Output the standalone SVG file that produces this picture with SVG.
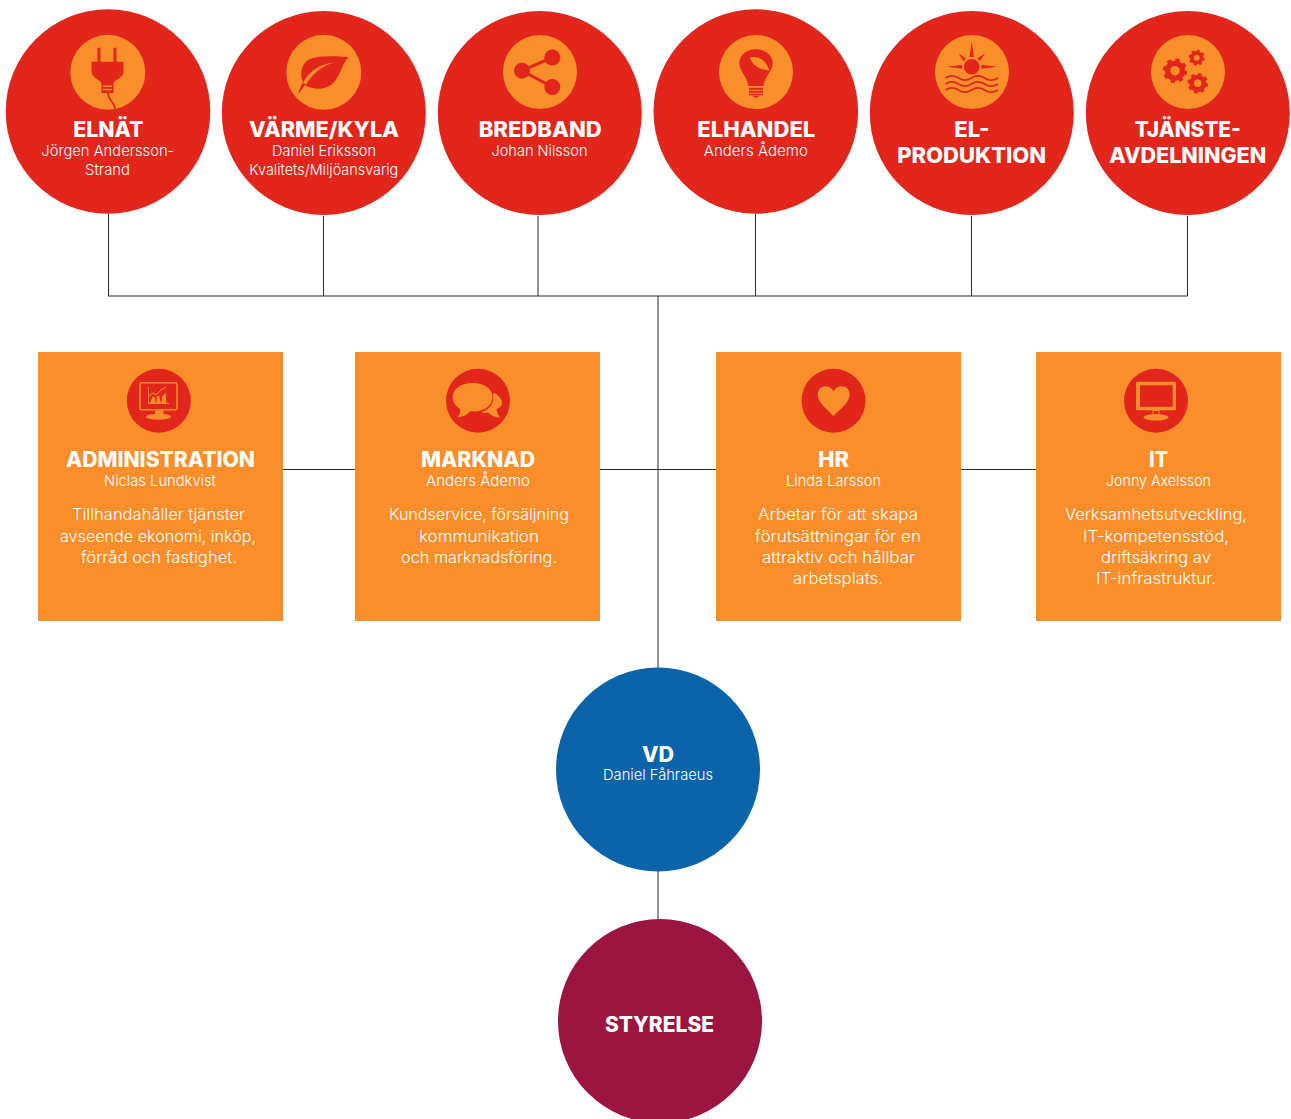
<svg xmlns="http://www.w3.org/2000/svg" width="1291" height="1119" viewBox="0 0 1291 1119">
<style>
text{font-family:Inter,"Liberation Sans",sans-serif;fill:#fff;text-anchor:middle}
.t{font-size:21px;font-weight:800}
.n{font-size:15px;font-weight:300}
.b{font-size:16.5px;font-weight:300}
.red{fill:#e2261b}.or{fill:#f98e2b}
.box{fill:#f98e2b}
.c{fill:none;stroke:#2a2a2a;stroke-width:1}
.rs{fill:none;stroke:#e2261b}.os{fill:none;stroke:#f98e2b}
</style>
<rect width="1291" height="1119" fill="#fff"/>
<g id="connectors" class="c">
<path d="M108.500 214V296M323.500 216V296M538 216V296M755.500 214V296M971.500 216V296M1187.500 216V296M108 296H1187.500"/>
<path d="M658 296V668M283 469.500H355M600 469.500H716M961 469.500H1036M658 871V920"/>
</g>
<g id="elnat">
<circle class="red" cx="108" cy="111.500" r="102.300"/>
<circle class="or" cx="107.800" cy="72.300" r="37.500"/>
<path class="red" d="M97.500 47.700h3v14h-3zM113.500 47.700h3v14h-3zM91.500 61.700H123.500V71C123.500 79 114 79 113.500 84V93H101.500V84C101 79 91.500 79 91.500 71Z"/>
<path class="or" d="M103 85.500h9v1.500h-9zM103 88.800h9v1.500h-9z"/>
<path class="rs" stroke-width="1.800" d="M108 93C108 100 113 100 115.500 109"/>
<text class="t" x="108.300" y="136.500" textLength="70" lengthAdjust="spacingAndGlyphs">ELNÄT</text>
<text class="n" x="107.800" y="156" textLength="133" lengthAdjust="spacingAndGlyphs">Jörgen Andersson-</text>
<text class="n" x="107.500" y="175" textLength="45" lengthAdjust="spacingAndGlyphs">Strand</text>
</g>
<g id="varme-kyla">
<circle class="red" cx="323.800" cy="113" r="102"/>
<circle class="or" cx="323.800" cy="72.300" r="37.500"/>
<path class="red" d="M349 57.300C343 61 342 72 335 81C328 90 314 91 305 85L301 90.500L299 93.500L298.500 92C300 88 301.500 85 303 82C299 74 302 62 310 59C320 55 337 56 349 57.300Z"/>
<path class="or" d="M303 83C309 71 320 64 334 62.500C322 66 313 73 306 84.500Z"/>
<text class="t" x="324" y="136.500" textLength="150" lengthAdjust="spacingAndGlyphs">VÄRME/KYLA</text>
<text class="n" x="324" y="156" textLength="104" lengthAdjust="spacingAndGlyphs">Daniel Eriksson</text>
<text class="n" x="323.800" y="175" textLength="149" lengthAdjust="spacingAndGlyphs">Kvalitets/Miljöansvarig</text>
</g>
<g id="bredband">
<circle class="red" cx="539.800" cy="113" r="102"/>
<circle class="or" cx="540" cy="72" r="37"/>
<g class="red"><circle cx="522" cy="70.700" r="8"/><circle cx="552.300" cy="57.500" r="8"/><circle cx="552.300" cy="87" r="8"/></g>
<path class="rs" stroke-width="3" d="M552.300 57.500L522 70.700L552.300 87"/>
<text class="t" x="540.200" y="136.500" textLength="123" lengthAdjust="spacingAndGlyphs">BREDBAND</text>
<text class="n" x="539.500" y="156" textLength="96" lengthAdjust="spacingAndGlyphs">Johan Nilsson</text>
</g>
<g id="elhandel">
<circle class="red" cx="755.800" cy="111.500" r="102.300"/>
<circle class="or" cx="756" cy="72" r="37"/>
<path class="red" d="M756 49.300C765.500 49.300 772.700 55.500 772.700 63C772.700 71 765 76 763.300 86H748.300C747 76 739.300 71 739.300 63C739.300 55.500 746.500 49.300 756 49.300Z"/>
<path class="or" d="M750 57.500C757 55.500 766 58.500 769.500 71C763 69.500 753 68 750 57.500Z"/>
<path class="red" d="M749 87.800h14v2h-14zM749 90.800h14v2h-14zM749 93.800h14v1.500h-14zM752 95.800h8l-4 2.200z"/>
<text class="t" x="756.300" y="136.500" textLength="118" lengthAdjust="spacingAndGlyphs">ELHANDEL</text>
<text class="n" x="755.800" y="156" textLength="104" lengthAdjust="spacingAndGlyphs">Anders Ådemo</text>
</g>
<g id="el-produktion">
<circle class="red" cx="971.800" cy="113" r="102"/>
<circle class="or" cx="972" cy="72" r="37"/>
<circle class="red" cx="971.700" cy="66.700" r="7.800"/>
<path class="red" d="M971.700 41.700L974 57H969.400ZM947.300 66.700L962 64.700V68.700ZM996.700 66.700L981.500 64.700V68.700ZM958.300 53.300L966 58.500L963.500 61ZM985.200 53.300L977.500 58.500L980 61Z"/>
<path class="rs" stroke-width="1.700" d="M945.500 78C950 75 954 75 958.500 78S967 81 971.500 78S980 75 984.500 78S993.500 81 998 78M945.500 84C950 81 954 81 958.500 84S967 87 971.500 84S980 81 984.500 84S993.500 87 998 84M945.500 90C950 87 954 87 958.500 90S967 93 971.500 90S980 87 984.500 90S993.500 93 998 90"/>
<text class="t" x="971.800" y="136.500" textLength="35" lengthAdjust="spacingAndGlyphs">EL-</text>
<text class="t" x="971.700" y="162.500" textLength="149" lengthAdjust="spacingAndGlyphs">PRODUKTION</text>
</g>
<g id="tjansteavdelningen">
<circle class="red" cx="1187.800" cy="113" r="102"/>
<circle class="or" cx="1188" cy="72" r="37"/>
<g class="rs">
<circle cx="1175" cy="70.700" r="7.500" stroke-width="5.500"/>
<circle cx="1175" cy="70.700" r="10.500" stroke-width="3.500" stroke-dasharray="4.200 4.050"/>
<circle cx="1197.700" cy="83.300" r="6.200" stroke-width="4.800"/>
<circle cx="1197.700" cy="83.300" r="8.800" stroke-width="3" stroke-dasharray="3.500 3.410"/>
<circle cx="1196.700" cy="57.700" r="4.800" stroke-width="3.800"/>
<circle cx="1196.700" cy="57.700" r="6.800" stroke-width="2.500" stroke-dasharray="2.700 2.640"/>
</g>
<text class="t" x="1187.700" y="136.500" textLength="106" lengthAdjust="spacingAndGlyphs">TJÄNSTE-</text>
<text class="t" x="1187.700" y="162.500" textLength="157" lengthAdjust="spacingAndGlyphs">AVDELNINGEN</text>
</g>
<g id="administration">
<rect class="box" x="38" y="352" width="245" height="269"/>
<circle class="red" cx="158.800" cy="400.700" r="32"/>
<rect class="os" x="140" y="382.700" width="37" height="27" rx="1.500" stroke-width="1.500"/>
<path class="or" d="M155 410.400h8.500v6h-8.500z"/>
<ellipse class="or" cx="158.500" cy="416.700" rx="12.500" ry="3"/>
<path class="os" stroke-width="1" d="M148 403.500H169M148.500 404V387"/>
<path class="or" d="M150 403L153 396L155 398L155.500 403ZM156.500 403V396.500L159 395.500L161 403ZM161.500 403L162 397L165.500 392.500L166.500 403Z"/>
<path class="os" stroke-width="1" d="M149 396L153 393L156 395L161 390L166 387"/>
<text class="t" x="160.500" y="467" textLength="189" lengthAdjust="spacingAndGlyphs">ADMINISTRATION</text>
<text class="n" x="160" y="486" textLength="112" lengthAdjust="spacingAndGlyphs">Niclas Lundkvist</text>
<text class="b" x="158.500" y="520" textLength="173" lengthAdjust="spacingAndGlyphs">Tillhandahåller tjänster</text>
<text class="b" x="158" y="542" textLength="196" lengthAdjust="spacingAndGlyphs">avseende ekonomi, inköp,</text>
<text class="b" x="159" y="563" textLength="156" lengthAdjust="spacingAndGlyphs">förråd och fastighet.</text>
</g>
<g id="marknad">
<rect class="box" x="355" y="352" width="245" height="269"/>
<circle class="red" cx="478" cy="400.700" r="32"/>
<path class="or" d="M493 394.500C494 392 496 393.500 498.500 396C504 401 503 407 496.500 409C497 412 498 415 500 417.500C496 417.500 491 415.500 488 412.500C485 413.500 483 413 482 412C490 409.500 495 402 493 394.500Z"/>
<path class="or" d="M472.700 383C461 383 452.700 389 452.700 397C452.700 402.500 456 406.500 460 409C461 412 459.500 415 457 417.300C462.500 417.300 467 415 470.500 411.300C484 412.500 492.500 405.500 492.500 397C492.500 389 484 383 472.700 383Z"/>
<text class="t" x="478" y="467" textLength="114" lengthAdjust="spacingAndGlyphs">MARKNAD</text>
<text class="n" x="478" y="486" textLength="104" lengthAdjust="spacingAndGlyphs">Anders Ådemo</text>
<text class="b" x="479" y="520" textLength="180" lengthAdjust="spacingAndGlyphs">Kundservice, försäljning</text>
<text class="b" x="479" y="542" textLength="120" lengthAdjust="spacingAndGlyphs">kommunikation</text>
<text class="b" x="479" y="563" textLength="156" lengthAdjust="spacingAndGlyphs">och marknadsföring.</text>
</g>
<g id="hr">
<rect class="box" x="716" y="352" width="245" height="269"/>
<circle class="red" cx="833.500" cy="400.700" r="32"/>
<path class="or" d="M833.500 416C828 410 817.700 403 817.700 394.500C817.700 385 829.500 383.500 833.500 391C837.500 383.500 849.700 385 849.700 394.500C849.700 403 839 410 833.500 416Z"/>
<text class="t" x="833.500" y="467" textLength="31" lengthAdjust="spacingAndGlyphs">HR</text>
<text class="n" x="833.500" y="486" textLength="95" lengthAdjust="spacingAndGlyphs">Linda Larsson</text>
<text class="b" x="838" y="520" textLength="160" lengthAdjust="spacingAndGlyphs">Arbetar för att skapa</text>
<text class="b" x="838" y="542" textLength="166" lengthAdjust="spacingAndGlyphs">förutsättningar för en</text>
<text class="b" x="838.500" y="563" textLength="153" lengthAdjust="spacingAndGlyphs">attraktiv och hållbar</text>
<text class="b" x="838" y="584" textLength="90" lengthAdjust="spacingAndGlyphs">arbetsplats.</text>
</g>
<g id="it">
<rect class="box" x="1036" y="352" width="245" height="269"/>
<circle class="red" cx="1156" cy="400.700" r="32"/>
<rect class="or" x="1136" y="381.700" width="40" height="28.500" rx="1.500"/>
<rect class="red" x="1140" y="385.300" width="32.700" height="21.500"/>
<rect class="or" x="1152.500" y="410" width="7" height="6"/>
<rect class="red" x="1153.500" y="411" width="5" height="4"/>
<ellipse class="or" cx="1156" cy="417.300" rx="12.500" ry="3.300"/>
<text class="t" x="1158.500" y="467" textLength="19" lengthAdjust="spacingAndGlyphs">IT</text>
<text class="n" x="1158.500" y="486" textLength="105" lengthAdjust="spacingAndGlyphs">Jonny Axelsson</text>
<text class="b" x="1156" y="520" textLength="182" lengthAdjust="spacingAndGlyphs">Verksamhetsutveckling,</text>
<text class="b" x="1156" y="542" textLength="146" lengthAdjust="spacingAndGlyphs">IT-kompetensstöd,</text>
<text class="b" x="1156" y="563" textLength="110" lengthAdjust="spacingAndGlyphs">driftsäkring av</text>
<text class="b" x="1156" y="584" textLength="120" lengthAdjust="spacingAndGlyphs">IT-infrastruktur.</text>
</g>
<g id="vd">
<circle cx="658" cy="769.500" r="102" fill="#0b63a9"/>
<text class="t" x="658" y="762" textLength="32" lengthAdjust="spacingAndGlyphs">VD</text>
<text class="n" x="658" y="779.500" textLength="110" lengthAdjust="spacingAndGlyphs">Daniel Fåhraeus</text>
</g>
<g id="styrelse">
<circle cx="660" cy="1021" r="102" fill="#9c1440"/>
<text class="t" x="659.500" y="1032" textLength="109" lengthAdjust="spacingAndGlyphs">STYRELSE</text>
</g>
</svg>
